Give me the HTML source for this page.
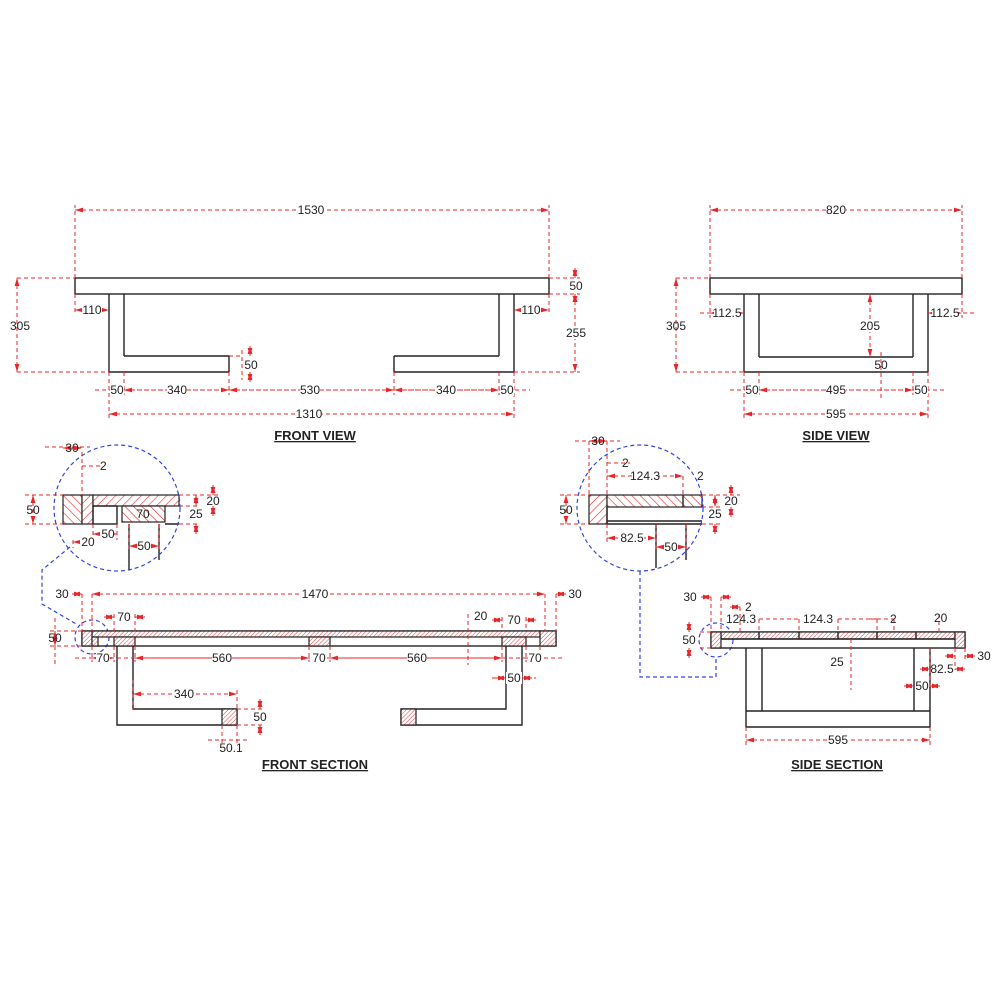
<!DOCTYPE html>
<html><head><meta charset="utf-8"><style>
html,body{margin:0;padding:0;background:#fff}
svg{display:block}
text{font-family:"Liberation Sans",Arial,sans-serif;font-size:12px;fill:#222}
.t{font-weight:bold;font-size:13px;text-decoration:underline}
.o{fill:none;stroke:#222;stroke-width:1.4}
.h{fill:url(#hp);stroke:#222;stroke-width:1.2}
.h2{fill:url(#hp2);stroke:#222;stroke-width:1.2}
.hf{fill:url(#hpf);stroke:#222;stroke-width:1.2}
.d{stroke:#e8262a;stroke-width:1;stroke-dasharray:4 3;fill:none}
.da{stroke:#e8262a;stroke-width:1;stroke-dasharray:4 3;fill:none;marker-start:url(#ar);marker-end:url(#ar)}
.b{stroke:#3344dd;stroke-width:1.2;stroke-dasharray:4 3;fill:none}
</style></head><body>
<svg width="1000" height="1000" viewBox="0 0 1000 1000" xmlns="http://www.w3.org/2000/svg">
<defs>
<marker id="ar" viewBox="0 0 10 6" refX="10" refY="3" markerWidth="8" markerHeight="5" orient="auto-start-reverse" markerUnits="userSpaceOnUse"><path d="M0,0L10,3L0,6z" fill="#e8262a"/></marker>
<pattern id="hp" width="6" height="6" patternUnits="userSpaceOnUse" patternTransform="rotate(45)"><rect width="6" height="6" fill="#fff"/><line x1="0" y1="0" x2="0" y2="6" stroke="#e8262a" stroke-width="1.2"/></pattern>
<pattern id="hp2" width="6" height="6" patternUnits="userSpaceOnUse" patternTransform="rotate(-45)"><rect width="6" height="6" fill="#fff"/><line x1="0" y1="0" x2="0" y2="6" stroke="#e8262a" stroke-width="1.2"/></pattern>
<pattern id="hpf" width="3" height="3" patternUnits="userSpaceOnUse" patternTransform="rotate(45)"><rect width="3" height="3" fill="#fff"/><line x1="0" y1="0" x2="0" y2="3" stroke="#e8262a" stroke-width="0.9"/></pattern>
</defs>

<!-- FRONT VIEW -->
<rect class="o" x="75" y="278" width="474" height="16"/>
<path class="o" d="M109,294V372M124,294V356M499,294V356M514,294V372M124,356H229V372M109,372H229M394,356H499M394,356V372H514"/>
<path class="d" d="M75,278V205M549,278V205M17,278H75M17,372H109M549,278H580M549,294H580M514,372H580M75,294V315M549,294V315M229,356H242M229,372V395M394,372V395M109,372V418M514,372V418M124,372V395M499,372V395M242,350V380"/>
<line class="da" x1="75" y1="210" x2="549" y2="210"/><rect x="298" y="204" width="26" height="12" fill="#fff"/><text x="311" y="214" text-anchor="middle">1530</text>
<line class="da" x1="17" y1="278" x2="17" y2="372"/><text x="20" y="330" text-anchor="middle">305</text>
<line class="da" x1="575" y1="268" x2="575" y2="278"/><line class="da" x1="575" y1="304" x2="575" y2="294"/><text x="576" y="290" text-anchor="middle">50</text>
<line class="da" x1="575" y1="294" x2="575" y2="372"/><rect x="565" y="327" width="20" height="12" fill="#fff"/><text x="576" y="337" text-anchor="middle">255</text>
<line class="da" x1="75" y1="310" x2="109" y2="310"/><rect x="82" y="304" width="20" height="12" fill="#fff"/><text x="92" y="314" text-anchor="middle">110</text>
<line class="da" x1="514" y1="310" x2="549" y2="310"/><rect x="521" y="304" width="20" height="12" fill="#fff"/><text x="531" y="314" text-anchor="middle">110</text>
<line class="da" x1="250" y1="346" x2="250" y2="356"/><line class="da" x1="250" y1="382" x2="250" y2="372"/><text x="251" y="369" text-anchor="middle">50</text>
<line class="d" x1="95" y1="390" x2="530" y2="390"/>
<line class="da" x1="109" y1="390" x2="124" y2="390"/><line class="da" x1="124" y1="390" x2="229" y2="390"/><line class="da" x1="229" y1="390" x2="394" y2="390"/><line class="da" x1="394" y1="390" x2="499" y2="390"/><line class="da" x1="499" y1="390" x2="514" y2="390"/>
<g text-anchor="middle"><rect x="110" y="384" width="14" height="12" fill="#fff"/><text x="117" y="394">50</text><rect x="167" y="384" width="20" height="12" fill="#fff"/><text x="177" y="394">340</text><rect x="300" y="384" width="20" height="12" fill="#fff"/><text x="310" y="394">530</text><rect x="436" y="384" width="20" height="12" fill="#fff"/><text x="446" y="394">340</text><rect x="500" y="384" width="14" height="12" fill="#fff"/><text x="507" y="394">50</text></g>
<line class="da" x1="109" y1="414" x2="514" y2="414"/><rect x="296" y="408" width="26" height="12" fill="#fff"/><text x="309" y="418" text-anchor="middle">1310</text>
<text class="t" x="315" y="440" text-anchor="middle">FRONT VIEW</text>

<!-- SIDE VIEW -->
<rect class="o" x="710" y="278" width="252" height="16"/>
<path class="o" d="M744,294V372M759,294V357M913,294V357M928,294V372M759,357H913M744,372H928"/>
<path class="d" d="M710,278V205M962,278V205M676,278H710M676,372H744M710,294V318M962,294V318M744,372V418M928,372V418M759,372V395M913,372V395M700,313H744M928,313H975M881,352V398"/>
<line class="da" x1="710" y1="210" x2="962" y2="210"/><rect x="826" y="204" width="20" height="12" fill="#fff"/><text x="836" y="214" text-anchor="middle">820</text>
<line class="da" x1="676" y1="278" x2="676" y2="372"/><text x="676" y="330" text-anchor="middle">305</text>
<line class="da" x1="710" y1="313" x2="744" y2="313"/><rect x="714" y="307" width="26" height="12" fill="#fff"/><text x="727" y="317" text-anchor="middle">112.5</text>
<line class="da" x1="928" y1="313" x2="962" y2="313"/><rect x="932" y="307" width="26" height="12" fill="#fff"/><text x="945" y="317" text-anchor="middle">112.5</text>
<line class="da" x1="870" y1="294" x2="870" y2="357"/><rect x="860" y="320" width="20" height="12" fill="#fff"/><text x="870" y="330" text-anchor="middle">205</text>
<text x="881" y="369" text-anchor="middle">50</text>
<line class="d" x1="730" y1="390" x2="945" y2="390"/>
<line class="da" x1="744" y1="390" x2="759" y2="390"/><line class="da" x1="759" y1="390" x2="913" y2="390"/><line class="da" x1="913" y1="390" x2="928" y2="390"/>
<g text-anchor="middle"><rect x="745" y="384" width="14" height="12" fill="#fff"/><text x="752" y="394">50</text><rect x="826" y="384" width="20" height="12" fill="#fff"/><text x="836" y="394">495</text><rect x="914" y="384" width="14" height="12" fill="#fff"/><text x="921" y="394">50</text></g>
<line class="da" x1="744" y1="414" x2="928" y2="414"/><rect x="826" y="408" width="20" height="12" fill="#fff"/><text x="836" y="418" text-anchor="middle">595</text>
<text class="t" x="836" y="440" text-anchor="middle">SIDE VIEW</text>

<!-- FRONT SECTION detail -->
<rect class="h2" x="63" y="495" width="19" height="29"/>
<rect class="h" x="82" y="495" width="11" height="29"/>
<rect class="h" x="93" y="495" width="86" height="11"/>
<rect class="o" x="93" y="506" width="24" height="18"/>
<rect class="h2" x="122" y="506" width="43" height="16"/>
<path class="o" d="M129,524V570M159,524V560M165,524H179"/>
<path class="d" d="M45,447H90M82,452V495M82,466H100M25,495H63M25,524H63M179,495H220M179,506H200M179,524H200M93,524V540M117,524V540M129,524V550M159,524V550M73,540V548"/>
<line class="da" x1="63" y1="448" x2="82" y2="448"/><text x="72" y="452" text-anchor="middle">30</text>
<text x="100" y="470">2</text>
<line class="da" x1="33" y1="495" x2="33" y2="524"/><text x="33" y="514" text-anchor="middle">50</text>
<line class="da" x1="213" y1="485" x2="213" y2="495"/><line class="da" x1="213" y1="516" x2="213" y2="506"/><text x="213" y="505" text-anchor="middle">20</text>
<line class="da" x1="196" y1="495" x2="196" y2="506"/><line class="da" x1="196" y1="534" x2="196" y2="524"/><text x="196" y="518" text-anchor="middle">25</text>
<text x="143" y="518" text-anchor="middle">70</text>
<line class="da" x1="93" y1="534" x2="117" y2="534"/><rect x="100" y="528" width="14" height="12" fill="#fff"/><text x="108" y="538" text-anchor="middle">50</text>
<line class="da" x1="73" y1="542" x2="93" y2="542"/><rect x="80" y="536" width="14" height="12" fill="#fff"/><text x="88" y="546" text-anchor="middle">20</text>
<line class="da" x1="129" y1="546" x2="159" y2="546"/><rect x="137" y="540" width="14" height="12" fill="#fff"/><text x="144" y="550" text-anchor="middle">50</text>
<circle class="b" cx="117" cy="508" r="63"/>
<path class="b" d="M70,547L42,570V604L78,625"/>
<circle class="b" cx="92" cy="637" r="17"/>

<!-- FRONT SECTION main -->
<rect class="o" x="82" y="631" width="474" height="15"/>
<rect class="hf" x="92" y="631" width="448" height="6"/>
<rect class="hf" x="82" y="631" width="10" height="15"/>
<rect class="hf" x="92" y="637" width="6" height="9"/>
<rect class="hf" x="114" y="637" width="21" height="9"/>
<rect class="hf" x="309" y="637" width="21" height="9"/>
<rect class="hf" x="502" y="637" width="24" height="9"/>
<rect class="hf" x="540" y="631" width="16" height="15"/>
<path class="o" d="M117,646V725H237V709H133V646M522,646V725H401V709H506V646"/>
<rect class="hf" x="222" y="709" width="15" height="16"/>
<rect class="hf" x="401" y="709" width="15" height="16"/>
<path class="d" d="M82,594V631M92,594V631M545,594V631M556,594V631M50,631H82M50,646H82M55,618V665M114,614V631M135,614V631M502,617V631M526,617V631M92,646V662M114,646V662M135,646V662M309,646V662M330,646V662M502,646V662M526,646V662M540,646V662M468,614V665M133,680V709M237,690V709M237,709H262M237,725H262M222,725V745M237,725V745"/>
<line class="da" x1="92" y1="594" x2="545" y2="594"/><rect x="302" y="588" width="26" height="12" fill="#fff"/><text x="315" y="598" text-anchor="middle">1470</text>
<line class="da" x1="72" y1="594" x2="82" y2="594"/><text x="62" y="598" text-anchor="middle">30</text>
<line class="da" x1="566" y1="594" x2="556" y2="594"/><text x="575" y="598" text-anchor="middle">30</text>
<line class="da" x1="55" y1="631" x2="55" y2="646"/><text x="55" y="642" text-anchor="middle">50</text>
<line class="da" x1="104" y1="617" x2="114" y2="617"/><line class="da" x1="145" y1="617" x2="135" y2="617"/><text x="124" y="621" text-anchor="middle">70</text>
<text x="474" y="620">20</text>
<line class="da" x1="492" y1="620" x2="502" y2="620"/><line class="da" x1="536" y1="620" x2="526" y2="620"/><text x="514" y="624" text-anchor="middle">70</text>
<line class="d" x1="75" y1="658" x2="562" y2="658"/>
<line class="da" x1="92" y1="658" x2="114" y2="658"/><line class="da" x1="135" y1="658" x2="309" y2="658"/><line class="da" x1="330" y1="658" x2="502" y2="658"/><line class="da" x1="526" y1="658" x2="540" y2="658"/>
<g text-anchor="middle"><rect x="96" y="652" width="14" height="12" fill="#fff"/><text x="103" y="662">70</text><rect x="212" y="652" width="20" height="12" fill="#fff"/><text x="222" y="662">560</text><rect x="312" y="652" width="14" height="12" fill="#fff"/><text x="319" y="662">70</text><rect x="407" y="652" width="20" height="12" fill="#fff"/><text x="417" y="662">560</text><rect x="528" y="652" width="14" height="12" fill="#fff"/><text x="535" y="662">70</text></g>
<line class="d" x1="492" y1="678" x2="536" y2="678"/><line class="da" x1="496" y1="678" x2="506" y2="678"/><line class="da" x1="532" y1="678" x2="522" y2="678"/><rect x="506" y="672" width="16" height="12" fill="#fff"/><text x="514" y="682" text-anchor="middle">50</text>
<line class="da" x1="133" y1="694" x2="237" y2="694"/><rect x="174" y="688" width="20" height="12" fill="#fff"/><text x="184" y="698" text-anchor="middle">340</text>
<line class="da" x1="260" y1="699" x2="260" y2="709"/><line class="da" x1="260" y1="735" x2="260" y2="725"/><text x="260" y="721" text-anchor="middle">50</text>
<line class="d" x1="208" y1="740" x2="250" y2="740"/><text x="231" y="752" text-anchor="middle">50.1</text>
<text class="t" x="315" y="769" text-anchor="middle">FRONT SECTION</text>

<!-- SIDE SECTION detail -->
<rect class="h" x="589" y="495" width="18" height="29"/>
<rect class="h2" x="607" y="495" width="95" height="12"/>
<path class="o" d="M683,495V507M607,507V524H702M607,521H702M656,524V568M686,524V560"/>
<path class="d" d="M575,441H620M589,441V495M607,441V495M607,463H630M683,476V495M560,495H589M560,524H589M702,495H740M702,507H720M702,524H720M607,524V545M656,524V550M686,524V550"/>
<line class="da" x1="589" y1="441" x2="607" y2="441"/><text x="598" y="445" text-anchor="middle">30</text>
<text x="622" y="467">2</text>
<line class="da" x1="607" y1="476" x2="683" y2="476"/><rect x="632" y="470" width="26" height="12" fill="#fff"/><text x="645" y="480" text-anchor="middle">124.3</text>
<text x="697" y="480">2</text>
<line class="da" x1="566" y1="495" x2="566" y2="524"/><text x="566" y="514" text-anchor="middle">50</text>
<line class="da" x1="731" y1="485" x2="731" y2="495"/><line class="da" x1="731" y1="517" x2="731" y2="507"/><text x="731" y="505" text-anchor="middle">20</text>
<line class="da" x1="715" y1="495" x2="715" y2="507"/><line class="da" x1="715" y1="534" x2="715" y2="524"/><text x="715" y="518" text-anchor="middle">25</text>
<line class="da" x1="607" y1="538" x2="656" y2="538"/><rect x="620" y="532" width="24" height="12" fill="#fff"/><text x="632" y="542" text-anchor="middle">82.5</text>
<line class="da" x1="656" y1="547" x2="686" y2="547"/><rect x="664" y="541" width="14" height="12" fill="#fff"/><text x="671" y="551" text-anchor="middle">50</text>
<circle class="b" cx="640" cy="508" r="63"/>
<path class="b" d="M640,571V677H716V657"/>
<circle class="b" cx="716" cy="640" r="17"/>

<!-- SIDE SECTION main -->
<rect class="o" x="711" y="632" width="254" height="16"/>
<rect class="hf" x="721" y="632" width="234" height="7"/>
<rect class="hf" x="711" y="632" width="10" height="16"/>
<rect class="hf" x="955" y="632" width="10" height="16"/>
<path class="o" d="M759,632V639M799,632V639M838,632V639M877,632V639M916,632V639M721,639H955M746,648V727H930V648M762,648V711M914,648V711M746,711H930"/>
<path class="d" d="M711,597V632M721,597V632M740,607V632M700,632H711M700,648H711M930,648V690M955,648V670M965,648V660M746,727V745M930,727V745M851,639V690M939,614V632M759,619V632M799,619V632M838,619V632M877,619V632M894,619V632"/>
<line class="da" x1="701" y1="597" x2="711" y2="597"/><line class="da" x1="731" y1="597" x2="721" y2="597"/><text x="690" y="601" text-anchor="middle">30</text>
<line class="da" x1="730" y1="607" x2="740" y2="607"/><text x="745" y="611">2</text>
<text x="741" y="623" text-anchor="middle">124.3</text>
<text x="818" y="623" text-anchor="middle">124.3</text>
<line class="d" x1="759" y1="619" x2="799" y2="619"/><line class="d" x1="838" y1="619" x2="877" y2="619"/><line class="d" x1="870" y1="619" x2="894" y2="619"/>
<text x="890" y="623">2</text>
<text x="934" y="622">20</text>
<line class="da" x1="689" y1="622" x2="689" y2="632"/><line class="da" x1="689" y1="658" x2="689" y2="648"/><text x="689" y="644" text-anchor="middle">50</text>
<text x="837" y="666" text-anchor="middle">25</text>
<line class="da" x1="945" y1="656" x2="955" y2="656"/><line class="da" x1="975" y1="656" x2="965" y2="656"/><text x="984" y="660" text-anchor="middle">30</text>
<line class="da" x1="920" y1="669" x2="930" y2="669"/><line class="da" x1="965" y1="669" x2="955" y2="669"/><text x="942" y="673" text-anchor="middle">82.5</text>
<line class="da" x1="904" y1="686" x2="914" y2="686"/><line class="da" x1="940" y1="686" x2="930" y2="686"/><text x="922" y="690" text-anchor="middle">50</text>
<line class="da" x1="746" y1="740" x2="930" y2="740"/><rect x="828" y="734" width="20" height="12" fill="#fff"/><text x="838" y="744" text-anchor="middle">595</text>
<text class="t" x="837" y="769" text-anchor="middle">SIDE SECTION</text>
</svg>
</body></html>
